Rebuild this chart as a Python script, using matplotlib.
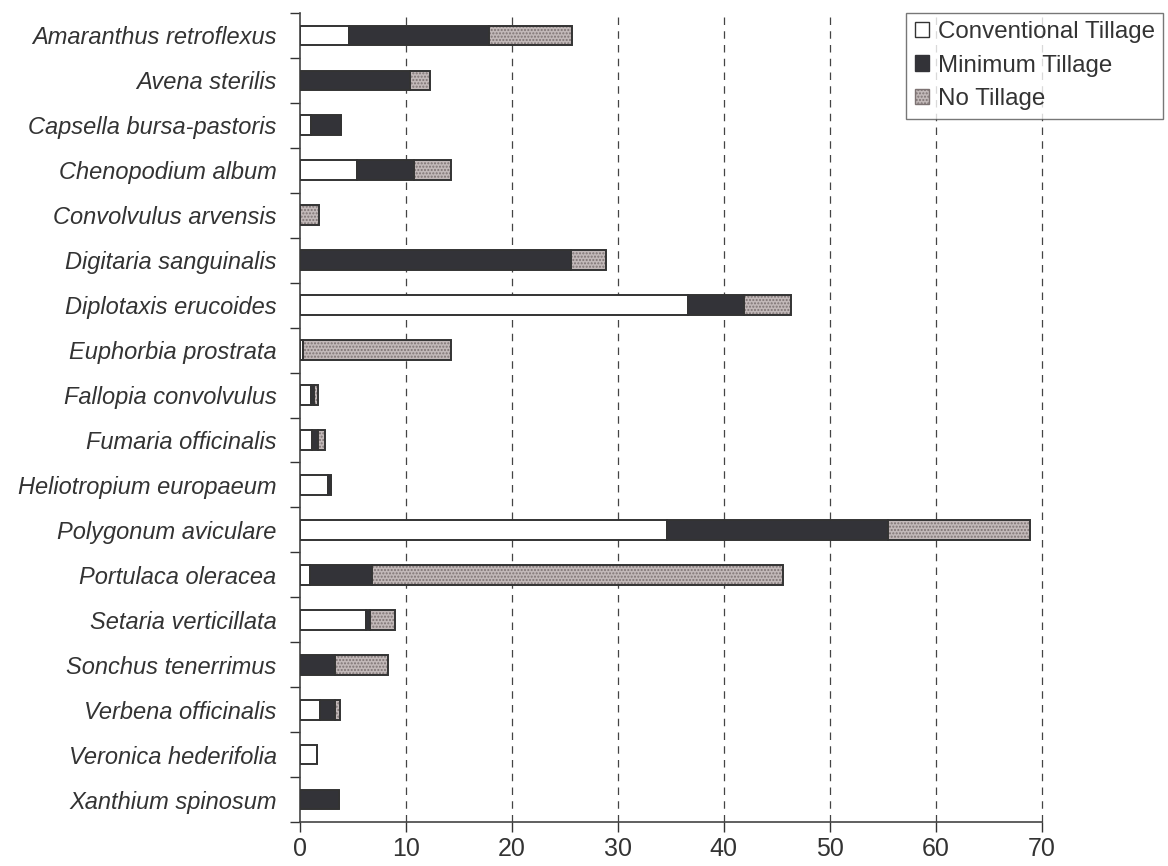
import numpy as np
import matplotlib.pyplot as plt
from matplotlib.patches import Patch
from matplotlib.ticker import FixedLocator

plt.rcParams['font.family'] = ['Liberation Sans', 'DejaVu Sans']
plt.rcParams['text.color'] = '#333333'
plt.rcParams['xtick.color'] = '#333333'
plt.rcParams['ytick.color'] = '#333333'

species = ['Amaranthus retroflexus', 'Avena sterilis', 'Capsella bursa-pastoris',
           'Chenopodium album', 'Convolvulus arvensis', 'Digitaria sanguinalis',
           'Diplotaxis erucoides', 'Euphorbia prostrata', 'Fallopia convolvulus',
           'Fumaria officinalis', 'Heliotropium europaeum', 'Polygonum aviculare',
           'Portulaca oleracea', 'Setaria verticillata', 'Sonchus tenerrimus',
           'Verbena officinalis', 'Veronica hederifolia', 'Xanthium spinosum']
conventional = [4.7, 0, 1.1, 5.4, 0, 0, 36.6, 0.3, 1.1, 1.2, 2.7, 34.6, 1.0, 6.3, 0, 1.9, 1.65, 0]
minimum      = [13.2, 10.4, 2.8, 5.4, 0, 25.6, 5.3, 0, 0.3, 0.5, 0.3, 20.9, 5.85, 0.35, 3.3, 1.4, 0, 3.7]
no_tillage   = [7.8, 1.9, 0, 3.5, 1.8, 3.3, 4.4, 14.0, 0.3, 0.7, 0, 13.4, 38.7, 2.4, 5.0, 0.5, 0, 0]
x_ticks = [0, 10, 20, 30, 40, 50, 60, 70]

ct = np.array(conventional)
mt = np.array(minimum)
nt = np.array(no_tillage)
ypos = np.arange(len(species))

dark = '#333338'
edge = '#333333'
stip_face = '#c2b9b9'
stip_dots = '#7d7373'

fig = plt.figure(figsize=(11.68, 8.66), dpi=100)
ax = fig.add_axes([299.5 / 1168, 1 - 822 / 866, (1042 - 299.5) / 1168, (822 - 13) / 866])

h = 0.44
ax.barh(ypos, ct, height=h, color='white', edgecolor=edge, linewidth=1.4, zorder=3)
ax.barh(ypos, mt, height=h, left=ct, color=dark, edgecolor=edge, linewidth=1.4, zorder=3)
ax.barh(ypos, nt, height=h, left=ct + mt, color=stip_face, edgecolor=stip_dots,
        hatch='.....', linewidth=0, zorder=3)
ax.barh(ypos, nt, height=h, left=ct + mt, color='none', edgecolor=edge, linewidth=1.4, zorder=4)

ax.set_xlim(0, 70)
ax.set_ylim(len(species) - 0.5, -0.5)
ax.set_xticks(x_ticks)
ax.set_xticklabels([str(v) for v in x_ticks], fontsize=18)
ax.set_yticks(ypos)
ax.set_yticklabels(species, fontsize=17, style='italic')
ax.yaxis.set_minor_locator(FixedLocator(np.arange(-0.5, len(species), 1)))
ax.tick_params(axis='y', which='major', length=0, pad=16.5)
ax.tick_params(axis='y', which='minor', length=7, width=1, color='#333333')
ax.tick_params(axis='x', length=7, width=1, pad=4)

for s in ['top', 'right']:
    ax.spines[s].set_visible(False)
for s in ['left', 'bottom']:
    ax.spines[s].set_color('#444444')
    ax.spines[s].set_linewidth(1.2)

for v in x_ticks[1:]:
    ax.axvline(v, color='#444444', linestyle=(0, (6, 5)), linewidth=0.9, zorder=1, clip_on=False)

handles = [Patch(facecolor='white', edgecolor=edge, linewidth=1),
           Patch(facecolor=dark, edgecolor=dark, linewidth=1),
           Patch(facecolor=stip_face, edgecolor=stip_dots, hatch='.....', linewidth=1)]
leg = ax.legend(handles, ['Conventional Tillage', 'Minimum Tillage', 'No Tillage'],
                loc='upper right', bbox_to_anchor=(1163 / 1168, 1 - 12.5 / 866),
                bbox_transform=fig.transFigure, fontsize=17.4, frameon=True, fancybox=False,
                borderpad=0.35, labelspacing=0.48, handlelength=0.6, handleheight=0.6,
                handletextpad=0.35, borderaxespad=0)
leg.get_frame().set_edgecolor('#555555')
leg.get_frame().set_linewidth(1)

fig.savefig('out.png', dpi=100)
